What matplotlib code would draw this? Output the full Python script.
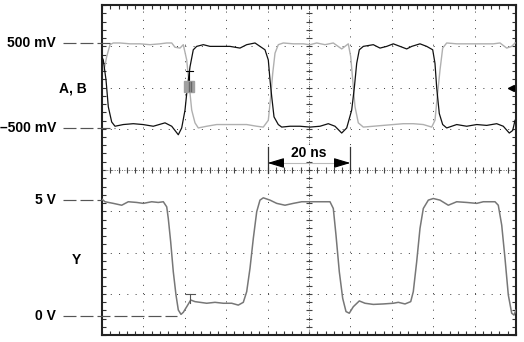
import numpy as np
import matplotlib.pyplot as plt
from matplotlib.ticker import MultipleLocator
from matplotlib.patches import Rectangle

plt.rcParams['font.family'] = ['Liberation Sans', 'DejaVu Sans']

# channel A (black), ns / V
t_a = [0.12, 0.31, 0.97, 1.52, 2.34, 3.14, 5.14, 7.56, 9.90, 12.39, 15.22, 16.84, 18.43, 19.25,
       20.05, 20.60, 21.26, 22.05, 22.87, 24.47, 26.09, 28.50, 30.92, 33.33, 34.95, 36.96, 38.16,
       39.37, 40.17, 40.58, 40.99, 41.55, 42.58, 43.41, 45.41, 47.83, 50.24, 52.66, 54.66, 56.28,
       57.90, 59.11, 60.31, 60.94, 61.52, 62.15, 63.12, 65.53, 67.15, 68.77, 70.36, 71.98, 73.60,
       74.81, 76.81, 78.43, 79.88, 80.43, 80.85, 81.47, 82.29, 83.26, 85.68, 88.09, 90.51, 92.92,
       95.34, 96.93, 98.38, 99.20, 99.76]
v_a = [0.32, 0.30, 0.065, -0.25, -0.43, -0.48, -0.46, -0.45, -0.46, -0.48, -0.44, -0.48, -0.58, -0.50,
       -0.29, -0.03, 0.22, 0.42, 0.46, 0.48, 0.46, 0.46, 0.46, 0.44, 0.48, 0.50, 0.46,
       0.42, 0.30, 0.065, -0.13, -0.37, -0.46, -0.49, -0.48, -0.48, -0.49, -0.48, -0.45, -0.48,
       -0.56, -0.50, -0.29, -0.03, 0.26, 0.42, 0.46, 0.48, 0.44, 0.46, 0.49, 0.46, 0.43,
       0.46, 0.49, 0.46, 0.42, 0.26, -0.03, -0.33, -0.46, -0.50, -0.46, -0.48, -0.46, -0.47,
       -0.45, -0.48, -0.56, -0.53, -0.41]

# channel B (grey)
t_b = [0.48, 1.14, 1.93, 2.73, 4.35, 6.76, 9.18, 11.59, 14.01, 15.63, 16.84, 17.63, 18.84, 19.64,
       20.46, 21.09, 21.67, 22.46, 23.26, 25.29, 27.71, 30.12, 32.54, 34.95, 37.37, 38.96, 40.17,
       40.75, 41.23, 41.79, 42.58, 43.79, 46.21, 48.62, 50.24, 51.86, 53.86, 55.87, 57.90, 59.49,
       60.07, 60.56, 61.11, 61.91, 63.12, 65.53, 67.95, 70.36, 72.78, 75.19, 77.61, 79.64, 80.43,
       80.99, 81.64, 82.29, 83.26, 85.68, 88.89, 92.10, 94.52, 96.14, 97.75, 98.96, 99.76]
v_b = [0.18, 0.34, 0.48, 0.50, 0.50, 0.49, 0.49, 0.48, 0.49, 0.50, 0.50, 0.45, 0.44, 0.48,
       0.30, -0.01, -0.29, -0.44, -0.50, -0.48, -0.46, -0.46, -0.46, -0.46, -0.48, -0.49, -0.41,
       -0.13, 0.14, 0.38, 0.48, 0.50, 0.49, 0.49, 0.48, 0.50, 0.48, 0.50, 0.43, 0.49,
       0.34, 0.065, -0.25, -0.44, -0.49, -0.48, -0.47, -0.46, -0.45, -0.45, -0.46, -0.49, -0.41,
       -0.13, 0.18, 0.44, 0.50, 0.49, 0.49, 0.49, 0.49, 0.50, 0.44, 0.46, 0.50]

# output Y
t_y = [0.0, 0.72, 2.73, 4.76, 6.35, 8.38, 9.98, 12.00, 13.60, 14.81, 15.63, 16.01, 16.59, 17.22,
       17.87, 18.43, 19.08, 19.64, 20.60, 21.43, 22.46, 23.67, 25.29, 27.29, 29.30, 31.33, 32.92,
       34.13, 34.95, 35.75, 36.55, 37.37, 38.16, 38.96, 40.58, 42.20, 44.20, 46.21, 48.24, 49.83,
       52.66, 55.07, 55.87, 56.52, 57.32, 58.14, 58.94, 59.73, 60.70, 62.15, 63.53, 65.53, 67.95,
       70.36, 71.57, 73.19, 74.57, 75.19, 76.01, 76.81, 77.61, 78.82, 80.02, 81.64, 83.65, 85.68,
       88.09, 90.51, 92.10, 94.93, 95.72, 96.55, 97.34, 98.14, 98.96, 99.52, 100.0]
v_y = [5.04, 4.93, 4.86, 4.78, 4.93, 4.90, 4.86, 4.93, 4.90, 4.93, 4.71, 4.21, 3.20, 1.91,
       0.91, 0.26, 0.07, 0.16, 0.44, 0.69, 0.62, 0.59, 0.55, 0.59, 0.55, 0.55, 0.47,
       0.59, 1.05, 2.06, 3.35, 4.50, 5.00, 5.10, 5.00, 4.86, 4.78, 4.86, 4.93, 4.93,
       4.93, 4.93, 4.64, 3.49, 1.91, 0.76, 0.19, 0.12, 0.40, 0.65, 0.55, 0.50, 0.52,
       0.55, 0.59, 0.52, 0.62, 1.05, 2.34, 3.78, 4.64, 5.00, 5.07, 5.00, 4.78, 4.93,
       4.90, 4.86, 4.93, 4.93, 4.78, 3.92, 2.49, 0.91, 0.12, 0.04, 0.26]

ab_levels = [0.5, -0.5]
ab_labels = ['500 mV', '\u2013500 mV']
y_levels = [5, 0]
y_labels = ['5 V', '0 V']

fig = plt.figure(figsize=(5.24, 3.42), dpi=100)
rect = [102 / 524, 7 / 342, 414 / 524, 330 / 342]

# graticule: 10 x 8 divisions, 10 ns/div
scr = fig.add_axes(rect)
scr.set_xlim(0, 100)
scr.set_ylim(0, 8)
scr.xaxis.set_major_locator(MultipleLocator(10))
scr.yaxis.set_major_locator(MultipleLocator(1))
scr.xaxis.set_minor_locator(MultipleLocator(2))
scr.yaxis.set_minor_locator(MultipleLocator(0.2))
scr.tick_params(which='both', direction='in', length=3, width=0.8, color='#333',
                top=True, right=True, labelleft=False, labelbottom=False)
scr.grid(True, color='#444', lw=0.72, linestyle=(0, (1, 7.28)))
for s in scr.spines.values():
    s.set_linewidth(1.5)
    s.set_color('#222')

# centre cross with small ticks
scr.axhline(4, color='#666', lw=0.7, ls=(0, (1, 1.5)))
scr.axvline(50, color='#666', lw=0.7, ls=(0, (1, 1.5)))
scr.plot(np.arange(0, 100.1, 2), np.full(51, 4.0), ls='none', marker='|', ms=4, mew=0.8, color='#444')
scr.plot(np.full(41, 50.0), np.arange(0, 8.01, 0.2), ls='none', marker='_', ms=4, mew=0.8, color='#444')

# 20 ns measurement
scr.plot([40, 40], [3.93, 4.56], color='#333', lw=0.9)
scr.plot([60, 60], [3.93, 4.56], color='#333', lw=0.9)
scr.plot([43.5, 56.5], [4.17, 4.17], color='#bbb', lw=0.8)
for x0, x1 in [(43.5, 40), (56.5, 60)]:
    scr.annotate('', xy=(x1, 4.17), xytext=(x0, 4.17),
                 arrowprops=dict(arrowstyle='-|>,head_length=1.0,head_width=0.3', color='k',
                                 lw=0.8, shrinkA=0, shrinkB=0, mutation_scale=10))
scr.text(50, 4.41, '20 ns', ha='center', va='center', fontsize=10, fontweight='bold',
         bbox=dict(facecolor='white', edgecolor='none', pad=0.5), zorder=5)

# channel A, B
ab = fig.add_axes(rect, sharex=scr)
ab.set_ylim(-2.937, 0.947)
ab.axis('off')
ab.plot(t_b, v_b, color='#b0b0b0', lw=1.0)
ab.plot(t_a, v_a, color='#111111', lw=0.9)
tr = ab.get_yaxis_transform()
for v, lab, end in zip(ab_levels, ab_labels, [2.4, 3.1]):
    ab.plot([-0.094, end / 100], [v, v], transform=tr, color='#555', lw=0.85,
            ls=(0, (11, 3.4)), clip_on=False)
    ab.text(-0.111, v, lab, transform=tr, ha='right', va='center', fontsize=10, fontweight='bold')
ab.text(-0.036, -0.04, 'A, B', transform=tr, ha='right', va='center', fontsize=10, fontweight='bold')
ab.plot([20.3, 22.0], [0.174, 0.174], color='k', lw=0.8)
ab.plot([21.1, 21.1], [0.174, 0.065], color='k', lw=0.8)
ab.add_patch(Rectangle((19.9, -0.073), 2.4, 0.129, color='#a0a0a0', zorder=3))
ab.plot([20.9, 20.9], [-0.06, 0.04], color='#666', lw=1.0, zorder=4)
ab.plot([21.5, 21.5], [-0.06, 0.04], color='#666', lw=1.0, zorder=4)
ab.plot(98.8, -0.03, marker='<', ms=4.5, color='k', clip_on=False)

# channel Y
yax = fig.add_axes(rect, sharex=scr)
yax.set_ylim(-0.82, 13.42)
yax.axis('off')
yax.plot(t_y, v_y, color='#777777', lw=1.1)
tr2 = yax.get_yaxis_transform()
for v, lab, end in zip(y_levels, y_labels, [0.0, 18.1]):
    yax.plot([-0.094, end / 100], [v, v], transform=tr2, color='#555', lw=0.85,
             ls=(0, (11, 3.4)), clip_on=False)
    yax.text(-0.111, v, lab, transform=tr2, ha='right', va='center', fontsize=10, fontweight='bold')
yax.text(-0.063, 2.4, 'Y', transform=tr2, ha='center', va='center', fontsize=10, fontweight='bold')
yax.plot([20.3, 22.5], [0.95, 0.95], color='#555', lw=0.8)
yax.plot([21.3, 21.3], [0.95, 0.56], color='#555', lw=0.8)

fig.savefig('out.png', dpi=100)
